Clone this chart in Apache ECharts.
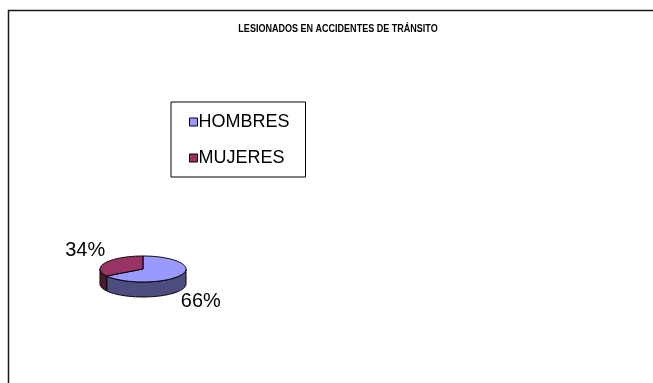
<!DOCTYPE html>
<html>
<head>
<meta charset="utf-8">
<script src="https://cdn.jsdelivr.net/npm/echarts@6/dist/echarts.min.js"></script>
<style>html,body{margin:0;padding:0;background:#fff;}#c{width:653px;height:383px;}</style>
</head>
<body>
<div id="c"></div>
<script>
var titleText = 'LESIONADOS EN ACCIDENTES DE TRÁNSITO';
var categories = ['HOMBRES', 'MUJERES'];
var values = [66, 34];
var topColors = ['#9999FF', '#993366'];
var sideColors = ['#4D4D80', '#4D1A33'];

var chart = echarts.init(document.getElementById('c'), null, {renderer: 'canvas'});

var total = values.reduce(function (a, b) { return a + b; }, 0);
var cum = 0;
var ranges = values.map(function (v) {
  var s = cum / total; cum += v; return [s, cum / total, v];
});

// pie layout (3D ellipse)
var CX = 143, CY = 269, RX = 43, RY = 13, DEPTH = 15;

function pt(deg, dy) {
  var r = deg * Math.PI / 180;
  return [CX + RX * Math.cos(r), CY - RY * Math.sin(r) + (dy || 0)];
}
function arcPts(a, b, dy) {
  var n = Math.max(2, Math.ceil(Math.abs(b - a) / 2));
  var out = [];
  for (var i = 0; i <= n; i++) out.push(pt(a + (b - a) * i / n, dy));
  return out;
}

function makeRender(idx) {
  return function (params, api) {
    var s = api.value(0), e = api.value(1), v = api.value(2);
    var t1 = 90 - s * 360, t2 = 90 - e * 360; // clockwise
    var children = [];
    var lo = Math.min(t1, t2), hi = Math.max(t1, t2);
    for (var k = -2; k <= 1; k++) {
      var a = Math.max(lo, -180 + 360 * k), b = Math.min(hi, 360 * k);
      if (b > a) {
        var topE = arcPts(a, b, 0);
        var botE = arcPts(b, a, DEPTH);
        children.push({
          type: 'polygon', z2: 1,
          shape: {points: topE.concat(botE)},
          style: {fill: sideColors[idx], stroke: '#000', lineWidth: 1}
        });
      }
    }
    var pts = [[CX, CY]].concat(arcPts(t1, t2, 0));
    children.push({
      type: 'polygon', z2: 10,
      shape: {points: pts},
      style: {fill: topColors[idx], stroke: '#000', lineWidth: 1}
    });
    var mid = (t1 + t2) / 2 * Math.PI / 180;
    var lx = CX + 66 * Math.cos(mid);
    var ly = CY + 6.5 - 52.6 * Math.sin(mid);
    children.push({
      type: 'text', z2: 20,
      scaleX: 0.95,
      x: lx, y: ly,
      style: {
        text: Math.round(v / total * 100) + '%',
        x: 0, y: 0,
        align: 'center', verticalAlign: 'middle',
        textAlign: 'center', textVerticalAlign: 'middle',
        font: '21px "Liberation Sans", Arial, sans-serif',
        fill: '#000'
      }
    });
    return {type: 'group', children: children};
  };
}

var series = categories.map(function (name, i) {
  return {
    type: 'custom',
    name: name,
    coordinateSystem: 'none',
    itemStyle: {color: topColors[i], borderColor: '#000', borderWidth: 1},
    data: [ranges[i]],
    renderItem: makeRender(i),
    animation: false
  };
});

chart.setOption({
  animation: false,
  backgroundColor: '#fff',
  legend: {
    data: categories,
    orient: 'vertical',
    left: 171, top: 102,
    borderColor: '#000', borderWidth: 1,
    padding: [10, 16, 9, 18],
    itemWidth: 8, itemHeight: 8, itemGap: 16,
    icon: 'rect',
    itemStyle: {borderColor: '#000', borderWidth: 1},
    textStyle: {fontFamily: '"Liberation Sans", Arial', fontSize: 18, color: '#000', lineHeight: 20, padding: [0, 0, 0, -4]},
    selectedMode: false
  },
  graphic: [{
    type: 'rect', silent: true, z: -1,
    shape: {x: 8.5, y: 10.5, width: 700, height: 420},
    style: {fill: 'none', stroke: '#1a1a1a', lineWidth: 1.5}
  }, {
    type: 'text', silent: true,
    x: 338, y: 29, scaleX: 0.82,
    style: {
      text: titleText,
      font: 'bold 11px "Liberation Sans", Arial, sans-serif',
      fill: '#000',
      textAlign: 'center', textVerticalAlign: 'middle'
    }
  }],
  series: series
});
</script>
</body>
</html>
